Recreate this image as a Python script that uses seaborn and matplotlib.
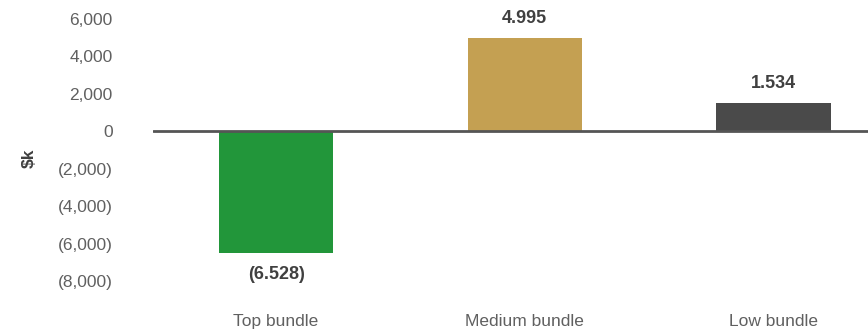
import matplotlib
matplotlib.use("Agg")
import matplotlib.pyplot as plt
import matplotlib.ticker as mticker
import pandas as pd
import seaborn as sns

categories = ["Top bundle", "Medium bundle", "Low bundle"]
values = [-6528, 4995, 1534]
bar_colors = ["#22963a", "#c4a052", "#4a4a4a"]
y_ticks = [6000, 4000, 2000, 0, -2000, -4000, -6000, -8000]

sns.set_theme(style="white")
plt.rcParams["font.family"] = ["Liberation Sans", "DejaVu Sans"]

df = pd.DataFrame({"bundle": categories, "value": values})

fig = plt.figure(figsize=(8.68, 3.34), dpi=100)
ax = fig.add_axes([153 / 868, 1 - 281 / 334, 1 - 153 / 868, 262 / 334])

sns.barplot(data=df, x="bundle", y="value", hue="bundle", palette=bar_colors,
            width=0.46, legend=False, ax=ax, saturation=1, linewidth=0)

ax.axhline(0, color="#555555", lw=2, zorder=5)
ax.set_ylim(-8000, 6000)
ax.set_xlim(-0.495, 2.38)
ax.set_yticks(y_ticks)


def fmt_k(v, pos=None):
    if v < 0:
        return f"({abs(v):,.0f})"
    return f"{v:,.0f}"


ax.yaxis.set_major_formatter(mticker.FuncFormatter(fmt_k))
ax.tick_params(axis="y", length=0, pad=29, labelsize=12.5, labelcolor="#606060")
ax.tick_params(axis="x", length=0, pad=24, labelsize=12.5, labelcolor="#606060")
ax.set_xlabel("")
ax.set_ylabel("$k", fontsize=12.5, fontweight="bold", color="#404040")
ax.yaxis.set_label_coords(-0.162, 0.468)
for s in ax.spines.values():
    s.set_visible(False)

for i, v in enumerate(values):
    txt = f"{abs(v):,}".replace(",", ".")
    if v < 0:
        txt = f"({txt})"
    off = 14 if v > 0 else -15
    ax.annotate(txt, (i, v), xytext=(0, off), textcoords="offset points",
                ha="center", va="center", fontsize=13, fontweight="bold",
                color="#404040", annotation_clip=False)

fig.savefig("out.png", dpi=100)
